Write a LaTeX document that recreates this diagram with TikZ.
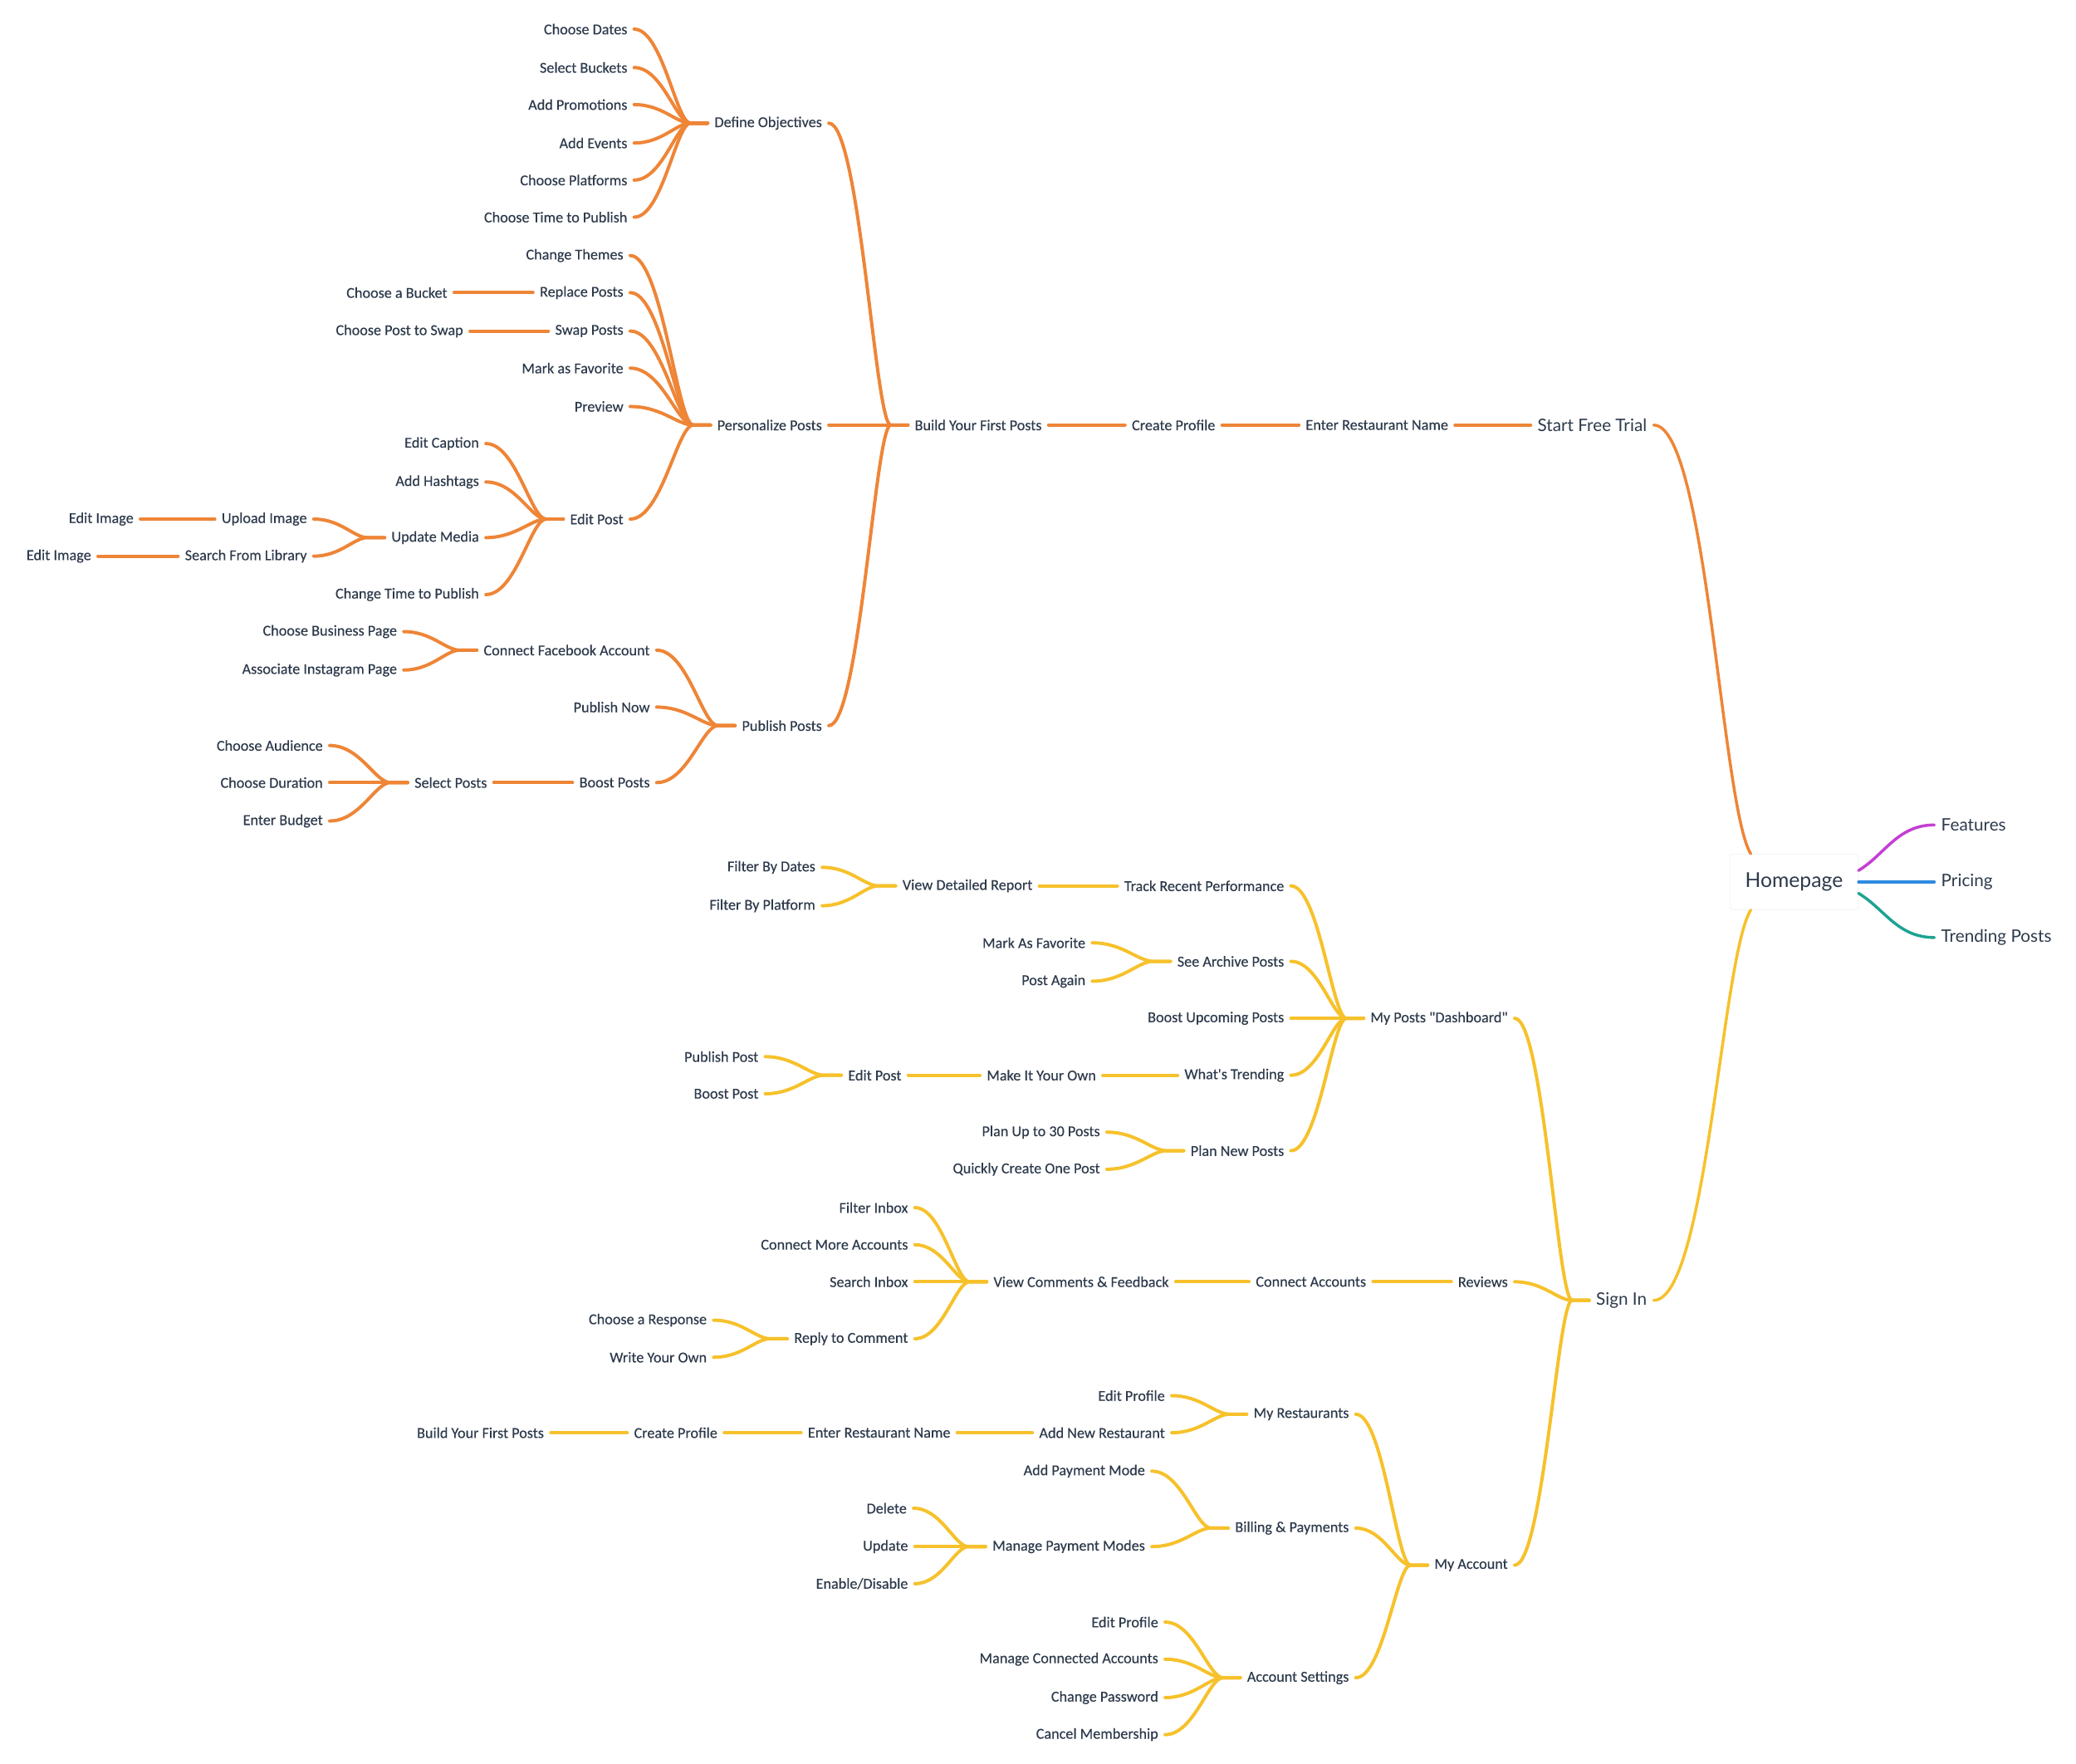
\documentclass[tikz,border=0pt]{standalone}
\usepackage{fontspec}
\usetikzlibrary{calc}
\newfontfamily\lblfam[FakeBold=0.3]{Carlito}
\newfontfamily\topfam{Lato}
\definecolor{ink}{HTML}{2D3A4B}
\definecolor{orn}{HTML}{EE8537}
\definecolor{yel}{HTML}{F6C12B}
\definecolor{pur}{HTML}{C33FD3}
\definecolor{blu}{HTML}{2F8AE0}
\definecolor{tea}{HTML}{1FA393}
\tikzset{
  lbl/.style={font=\lblfam\fontsize{11.4}{13}\selectfont, text=ink, inner xsep=5pt, inner ysep=2pt, anchor=east},
  top/.style={font=\topfam\fontsize{13}{15}\selectfont, text=ink, inner xsep=5pt, inner ysep=2pt},
  root/.style={draw=gray!12, fill=white, rounded corners=2pt, minimum width=97pt, minimum height=42pt,
    font=\topfam\fontsize{15.5}{18}\selectfont, text=ink},
  trunk/.style={line width=2.2pt, line cap=round},
  br/.style={line width=2.5pt, line cap=round, line join=round,
    to path={let \p1=(\tikztostart), \p2=(\tikztotarget) in
      (\p1) .. controls ({\x1+0.5*(\x2-\x1-13pt)},\y1) and ({\x2-13pt-0.25*(\x2-\x1-13pt)},\y2)
      .. ({\x2-13pt},\y2) -- (\p2)}},
  ob/.style={br, draw=orn},
  yb/.style={br, draw=yel},
}
\begin{document}
\begin{tikzpicture}[x=1pt,y=-1pt]
\useasboundingbox (0,0) rectangle (1568,1332);
% root and first level
\node[root] (home) at (1355,666) {Homepage};
\node[top,anchor=west] (feat) at (1461,623) {Features};
\node[top,anchor=west] (pri) at (1461,666) {Pricing};
\node[top,anchor=west] (tp) at (1461,708) {Trending Posts};
\node[top,anchor=east] (sft) at (1249,321) {Start Free Trial};
\node[top,anchor=east] (signin) at (1249,982) {Sign In};
\draw[trunk,pur] (home.10) .. controls +(20,-12) and +(-28,0) .. (feat.west);
\draw[trunk,blu] (home.east) -- (pri.west);
\draw[trunk,tea] (home.-10) .. controls +(20,12) and +(-28,0) .. (tp.west);
\draw[trunk,orn] (sft.east) .. controls +(40,0) and +(-22,-35) .. (home.147);
\draw[trunk,yel] (signin.east) .. controls +(40,0) and +(-22,35) .. (home.-147);

% start free trial
\node[lbl] (ern) at (1099,321) {Enter Restaurant Name};
\node[lbl] (cp) at (923,321) {Create Profile};
\node[lbl] (bfp) at (792,321) {Build Your First Posts};
\node[lbl] (dobj) at (626,93) {Define Objectives};
\node[lbl] (pers) at (626,321) {Personalize Posts};
\node[lbl] (pub) at (626,548) {Publish Posts};
\node[lbl] (cd) at (479,22) {Choose Dates};
\node[lbl] (sb) at (479,51) {Select Buckets};
\node[lbl] (ap) at (479,79) {Add Promotions};
\node[lbl] (ae) at (479,108) {Add Events};
\node[lbl] (cpl) at (479,136) {Choose Platforms};
\node[lbl] (ctp) at (479,164) {Choose Time to Publish};
\node[lbl] (ct) at (476,193) {Change Themes};
\node[lbl] (rp) at (476,221) {Replace Posts};
\node[lbl] (sp) at (476,250) {Swap Posts};
\node[lbl] (maf) at (476,278) {Mark as Favorite};
\node[lbl] (pre) at (476,307) {Preview};
\node[lbl] (ep) at (476,392) {Edit Post};
\node[lbl] (cab) at (343,221) {Choose a Bucket};
\node[lbl] (cps) at (355,250) {Choose Post to Swap};
\node[lbl] (ec) at (367,335) {Edit Caption};
\node[lbl] (ah) at (367,364) {Add Hashtags};
\node[lbl] (um) at (367,406) {Update Media};
\node[lbl] (ctp2) at (367,449) {Change Time to Publish};
\node[lbl] (ui) at (237,392) {Upload Image};
\node[lbl] (sfl) at (237,420) {Search From Library};
\node[lbl] (ei1) at (106,392) {Edit Image};
\node[lbl] (ei2) at (74,420) {Edit Image};
\node[lbl] (cfa) at (496,491) {Connect Facebook Account};
\node[lbl] (pn) at (496,534) {Publish Now};
\node[lbl] (bp) at (496,591) {Boost Posts};
\node[lbl] (cbp) at (305,477) {Choose Business Page};
\node[lbl] (aip) at (305,506) {Associate Instagram Page};
\node[lbl] (slp) at (373,591) {Select Posts};
\node[lbl] (ca) at (249,563) {Choose Audience};
\node[lbl] (cdu) at (249,591) {Choose Duration};
\node[lbl] (eb) at (249,620) {Enter Budget};

\draw[ob] (ern.east) to (sft.west);
\draw[ob] (cp.east) to (ern.west);
\draw[ob] (bfp.east) to (cp.west);
\foreach \c in {dobj,pers,pub} \draw[ob] (\c.east) to (bfp.west);
\foreach \c in {cd,sb,ap,ae,cpl,ctp} \draw[ob] (\c.east) to (dobj.west);
\foreach \c in {ct,rp,sp,maf,pre,ep} \draw[ob] (\c.east) to (pers.west);
\draw[ob] (cab.east) to (rp.west);
\draw[ob] (cps.east) to (sp.west);
\foreach \c in {ec,ah,um,ctp2} \draw[ob] (\c.east) to (ep.west);
\foreach \c in {ui,sfl} \draw[ob] (\c.east) to (um.west);
\draw[ob] (ei1.east) to (ui.west);
\draw[ob] (ei2.east) to (sfl.west);
\foreach \c in {cfa,pn,bp} \draw[ob] (\c.east) to (pub.west);
\foreach \c in {cbp,aip} \draw[ob] (\c.east) to (cfa.west);
\draw[ob] (slp.east) to (bp.west);
\foreach \c in {ca,cdu,eb} \draw[ob] (\c.east) to (slp.west);

% sign in
\node[lbl] (mpd) at (1144,769) {My Posts "Dashboard"};
\node[lbl] (rev) at (1144,968) {Reviews};
\node[lbl] (macc) at (1144,1182) {My Account};
\node[lbl] (trp) at (975,669) {Track Recent Performance};
\node[lbl] (sap) at (975,726) {See Archive Posts};
\node[lbl] (bup) at (975,769) {Boost Upcoming Posts};
\node[lbl] (wt) at (975,812) {What's Trending};
\node[lbl] (pnp) at (975,869) {Plan New Posts};
\node[lbl] (vdr) at (785,669) {View Detailed Report};
\node[lbl] (fbd) at (621,655) {Filter By Dates};
\node[lbl] (fbp) at (621,684) {Filter By Platform};
\node[lbl] (mafy) at (825,712) {Mark As Favorite};
\node[lbl] (pa) at (825,741) {Post Again};
\node[lbl] (miyo) at (833,812) {Make It Your Own};
\node[lbl] (epy) at (686,812) {Edit Post};
\node[lbl] (pubp) at (578,798) {Publish Post};
\node[lbl] (bpo) at (578,826) {Boost Post};
\node[lbl] (pu30) at (836,855) {Plan Up to 30 Posts};
\node[lbl] (qc) at (836,883) {Quickly Create One Post};
\node[lbl] (cacc) at (1037,968) {Connect Accounts};
\node[lbl] (vcf) at (888,968) {View Comments \& Feedback};
\node[lbl] (fi) at (691,912) {Filter Inbox};
\node[lbl] (cma) at (691,940) {Connect More Accounts};
\node[lbl] (si) at (691,968) {Search Inbox};
\node[lbl] (rtc) at (691,1011) {Reply to Comment};
\node[lbl] (car) at (539,997) {Choose a Response};
\node[lbl] (wyo) at (539,1025) {Write Your Own};
\node[lbl] (mr) at (1024,1068) {My Restaurants};
\node[lbl] (bap) at (1024,1154) {Billing \& Payments};
\node[lbl] (as) at (1024,1267) {Account Settings};
\node[lbl] (epr) at (885,1054) {Edit Profile};
\node[lbl] (anr) at (885,1082) {Add New Restaurant};
\node[lbl] (ern2) at (723,1082) {Enter Restaurant Name};
\node[lbl] (cp2) at (547,1082) {Create Profile};
\node[lbl] (bfp2) at (416,1082) {Build Your First Posts};
\node[lbl] (apm) at (870,1111) {Add Payment Mode};
\node[lbl] (mpm) at (870,1168) {Manage Payment Modes};
\node[lbl] (del) at (690,1139) {Delete};
\node[lbl] (upd) at (691,1168) {Update};
\node[lbl] (ed) at (691,1196) {Enable/Disable};
\node[lbl] (epr2) at (880,1225) {Edit Profile};
\node[lbl] (mca) at (880,1253) {Manage Connected Accounts};
\node[lbl] (chp) at (880,1282) {Change Password};
\node[lbl] (cm) at (880,1310) {Cancel Membership};

\foreach \c in {mpd,rev,macc} \draw[yb] (\c.east) to (signin.west);
\foreach \c in {trp,sap,bup,wt,pnp} \draw[yb] (\c.east) to (mpd.west);
\draw[yb] (vdr.east) to (trp.west);
\foreach \c in {fbd,fbp} \draw[yb] (\c.east) to (vdr.west);
\foreach \c in {mafy,pa} \draw[yb] (\c.east) to (sap.west);
\draw[yb] (miyo.east) to (wt.west);
\draw[yb] (epy.east) to (miyo.west);
\foreach \c in {pubp,bpo} \draw[yb] (\c.east) to (epy.west);
\foreach \c in {pu30,qc} \draw[yb] (\c.east) to (pnp.west);
\draw[yb] (cacc.east) to (rev.west);
\draw[yb] (vcf.east) to (cacc.west);
\foreach \c in {fi,cma,si,rtc} \draw[yb] (\c.east) to (vcf.west);
\foreach \c in {car,wyo} \draw[yb] (\c.east) to (rtc.west);
\foreach \c in {mr,bap,as} \draw[yb] (\c.east) to (macc.west);
\foreach \c in {epr,anr} \draw[yb] (\c.east) to (mr.west);
\draw[yb] (ern2.east) to (anr.west);
\draw[yb] (cp2.east) to (ern2.west);
\draw[yb] (bfp2.east) to (cp2.west);
\foreach \c in {apm,mpm} \draw[yb] (\c.east) to (bap.west);
\foreach \c in {del,upd,ed} \draw[yb] (\c.east) to (mpm.west);
\foreach \c in {epr2,mca,chp,cm} \draw[yb] (\c.east) to (as.west);
\end{tikzpicture}
\end{document}
